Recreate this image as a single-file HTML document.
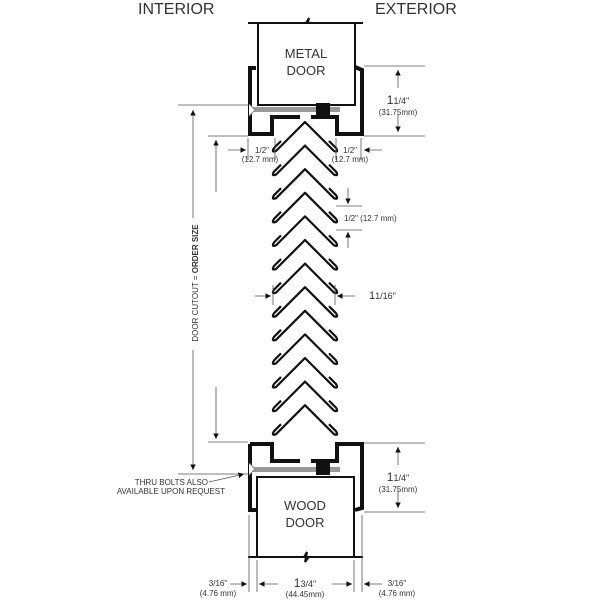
<!DOCTYPE html>
<html><head><style>
html,body{margin:0;padding:0;background:#fff;}
svg{display:block;}
text{font-family:"Liberation Sans",sans-serif;fill:#333;}
</style></head><body>
<svg width="600" height="600" viewBox="0 0 600 600" xmlns="http://www.w3.org/2000/svg">
<defs>
<marker id="a" viewBox="0 0 10 10" refX="10" refY="5" markerWidth="7" markerHeight="7" orient="auto-start-reverse"><path d="M0,0 L10,5 L0,10 z" fill="#111"/></marker>
<g id="chev">
<path d="M281,141 L274,148 Q271,153 276,151 L305,122 L334,151 Q339,153 336,148 L329,141" fill="none" stroke="#111" stroke-width="2.2" stroke-linejoin="round"/>
</g>
</defs>
<text x="138" y="14" font-size="16">INTERIOR</text>
<text x="375" y="14" font-size="16">EXTERIOR</text>

<!-- top door -->
<path d="M248,23 L306,23 L309,18 L307,27 L311,23 L363,23" fill="none" stroke="#111" stroke-width="2"/>
<rect x="258" y="23" width="97" height="82" fill="#fff" stroke="#111" stroke-width="2"/>
<text x="306" y="58" font-size="13" text-anchor="middle">METAL</text>
<text x="306" y="75" font-size="13" text-anchor="middle">DOOR</text>
<!-- top frame -->
<path d="M256,68 L250,68 L250,134 L272,134 L272,117 L300,117" fill="none" stroke="#111" stroke-width="4"/>
<path d="M311,117 L337,117 L337,134 L362,134 L362,70 L355,67" fill="none" stroke="#111" stroke-width="4"/>
<rect x="252" y="107" width="88" height="5" fill="#999"/>
<rect x="316" y="103" width="14" height="13" fill="#111"/>
<path d="M249,104 L255,110 L249,116" fill="#fff" stroke="#888"/>

<!-- chevrons -->
<use href="#chev" transform="translate(0,0)"/>
<use href="#chev" transform="translate(0,23.6)"/>
<use href="#chev" transform="translate(0,47.2)"/>
<use href="#chev" transform="translate(0,70.8)"/>
<use href="#chev" transform="translate(0,94.4)"/>
<use href="#chev" transform="translate(0,118)"/>
<use href="#chev" transform="translate(0,141.6)"/>
<use href="#chev" transform="translate(0,165.2)"/>
<use href="#chev" transform="translate(0,188.8)"/>
<use href="#chev" transform="translate(0,212.4)"/>
<use href="#chev" transform="translate(0,236)"/>
<use href="#chev" transform="translate(0,259.6)"/>
<use href="#chev" transform="translate(0,283.2)"/>

<!-- bottom frame -->
<path d="M250,444 L250,510 L256,510" fill="none" stroke="#111" stroke-width="4"/>
<path d="M250,444 L272,444 L272,461 L300,461" fill="none" stroke="#111" stroke-width="4"/>
<path d="M311,461 L337,461 L337,444 L362,444 L362,508 L355,510" fill="none" stroke="#111" stroke-width="4"/>
<rect x="252" y="467" width="88" height="5" fill="#999"/>
<rect x="316" y="462" width="14" height="13" fill="#111"/>
<path d="M249,463 L255,469 L249,475" fill="#fff" stroke="#888"/>
<rect x="257" y="477" width="97" height="80" fill="#fff" stroke="#111" stroke-width="2"/>
<path d="M248,557 L304,557 L307,552 L305,562 L309,557 L363,557" fill="none" stroke="#111" stroke-width="2"/>
<text x="305" y="510" font-size="13" text-anchor="middle">WOOD</text>
<text x="305" y="527" font-size="13" text-anchor="middle">DOOR</text>

<!-- right dims -->
<g stroke="#555" stroke-width="0.8">
<line x1="364" y1="66" x2="425" y2="66"/><line x1="364" y1="136" x2="425" y2="136"/>
<line x1="364" y1="443" x2="425" y2="443"/><line x1="364" y1="512" x2="425" y2="512"/>
<line x1="398" y1="70" x2="398" y2="88" marker-start="url(#a)"/>
<line x1="398" y1="114" x2="398" y2="132" marker-end="url(#a)"/>
<line x1="398" y1="447" x2="398" y2="465" marker-start="url(#a)"/>
<line x1="398" y1="490" x2="398" y2="508" marker-end="url(#a)"/>
<!-- 1/2 spacing -->
<line x1="336" y1="206" x2="362" y2="206"/><line x1="336" y1="230" x2="362" y2="230"/>
<line x1="348" y1="188" x2="348" y2="204" marker-end="url(#a)"/>
<line x1="348" y1="248" x2="348" y2="232" marker-end="url(#a)"/>
<!-- 1 1/16 -->
<line x1="335" y1="285" x2="335" y2="305"/><line x1="273" y1="285" x2="273" y2="305"/>
<line x1="355" y1="296" x2="337" y2="296" marker-end="url(#a)"/>
<line x1="255" y1="296" x2="271" y2="296" marker-end="url(#a)"/>
<!-- 1/2 top -->
<line x1="248" y1="138" x2="248" y2="160"/><line x1="275" y1="138" x2="275" y2="160"/>
<line x1="361" y1="138" x2="361" y2="160"/><line x1="336" y1="138" x2="336" y2="160"/>
<line x1="228" y1="150" x2="246" y2="150" marker-end="url(#a)"/>
<line x1="382" y1="150" x2="364" y2="150" marker-end="url(#a)"/>
<!-- left long dims -->
<line x1="178" y1="105" x2="248" y2="105"/><line x1="178" y1="474" x2="248" y2="474"/>
<line x1="208" y1="136" x2="248" y2="136"/><line x1="208" y1="442" x2="248" y2="442"/>
<line x1="193" y1="110" x2="193" y2="218" marker-start="url(#a)"/>
<line x1="193" y1="350" x2="193" y2="470" marker-end="url(#a)"/>
<line x1="216" y1="140" x2="216" y2="192" marker-start="url(#a)"/>
<line x1="216" y1="387" x2="216" y2="439" marker-end="url(#a)"/>
<!-- thru bolts -->
<line x1="209" y1="482" x2="244" y2="474" marker-end="url(#a)"/>
<!-- bottom dims -->
<line x1="249" y1="515" x2="249" y2="592"/><line x1="257" y1="560" x2="257" y2="592"/>
<line x1="354" y1="560" x2="354" y2="592"/><line x1="362" y1="515" x2="362" y2="592"/>
<line x1="230" y1="584" x2="247" y2="584" marker-end="url(#a)"/>
<line x1="278" y1="584" x2="259" y2="584" marker-end="url(#a)"/>
<line x1="332" y1="584" x2="352" y2="584" marker-end="url(#a)"/>
<line x1="382" y1="584" x2="364" y2="584" marker-end="url(#a)"/>
</g>

<text x="398" y="104" font-size="12" text-anchor="middle">1<tspan font-size="9">1/4"</tspan></text>
<text x="398" y="115" font-size="8" text-anchor="middle">(31.75mm)</text>
<text x="398" y="481" font-size="12" text-anchor="middle">1<tspan font-size="9">1/4"</tspan></text>
<text x="398" y="492" font-size="8" text-anchor="middle">(31.75mm)</text>
<text x="344" y="221" font-size="8">1/2" (12.7 mm)</text>
<text x="369" y="299" font-size="11">1<tspan font-size="9">1/16"</tspan></text>
<text x="262" y="153" font-size="8" text-anchor="middle">1/2"</text>
<text x="260" y="162" font-size="8" text-anchor="middle">(12.7 mm)</text>
<text x="350" y="153" font-size="8" text-anchor="middle">1/2"</text>
<text x="350" y="162" font-size="8" text-anchor="middle">(12.7 mm)</text>
<text transform="translate(198,283) rotate(-90)" font-size="8" text-anchor="middle">DOOR CUTOUT = <tspan font-weight="bold">ORDER SIZE</tspan></text>
<text x="208" y="485" font-size="8" text-anchor="end">THRU BOLTS ALSO</text>
<text x="225" y="494" font-size="8" text-anchor="end">AVAILABLE UPON REQUEST</text>
<text x="218" y="586" font-size="8" text-anchor="middle">3/16"</text>
<text x="218" y="596" font-size="8" text-anchor="middle">(4.76 mm)</text>
<text x="305" y="587" font-size="12" text-anchor="middle">1<tspan font-size="9">3/4"</tspan></text>
<text x="305" y="597" font-size="8" text-anchor="middle">(44.45mm)</text>
<text x="397" y="586" font-size="8" text-anchor="middle">3/16"</text>
<text x="397" y="596" font-size="8" text-anchor="middle">(4.76 mm)</text>
</svg>
</body></html>
